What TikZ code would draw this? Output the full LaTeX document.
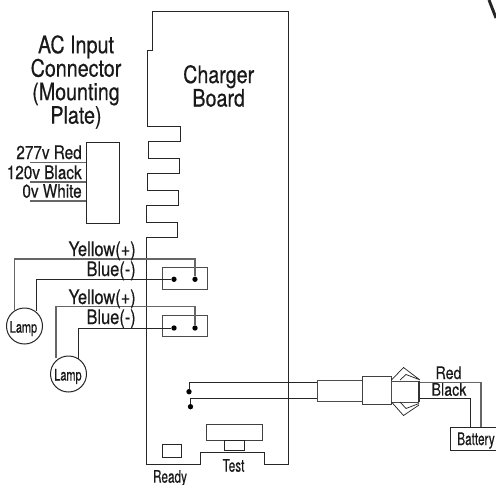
\documentclass[tikz,border=0pt]{standalone}
\usepackage{fontspec}
\setmainfont[FakeStretch=0.82,FakeBold=0.45]{TeX Gyre Heros}
\newfontfamily\narrowf[FakeStretch=0.68,FakeBold=0.45]{TeX Gyre Heros}
\begin{document}
\begin{tikzpicture}[x=0.75pt,y=-0.75pt,
  ln/.style={draw=black!85,line width=0.75pt,line join=miter},
  wire/.style={draw=black!85,line width=0.75pt},
  gwire/.style={draw=black!60,line width=0.8pt},
  dotn/.style={circle,fill=black,inner sep=0pt,minimum size=4pt},
  big/.style={font=\fontsize{18}{17.6}\selectfont,align=center,inner sep=0pt,text=black!90},
  lbl/.style={font=\fontsize{14}{15}\selectfont,inner sep=0pt,text=black!90},
  nlbl/.style={font=\narrowf\fontsize{13}{15}\selectfont,inner sep=0pt,text=black!90},
  lampn/.style={circle,draw=black!85,line width=0.75pt,minimum size=27pt,inner sep=0pt}]
\useasboundingbox (0,0) rectangle (496,485);
% stray stroke at corner
\coordinate (st1) at (489,0); \coordinate (st2) at (496,18);
\draw[line width=2.2pt,black!85] (st1) -- (st2);
% board
\draw[ln] (152,12) -- (288.3,12) -- (288.3,464) -- (264,464) -- (264,452.7) -- (200,452.7) -- (200,464) -- (146.7,464)
  -- (146.7,237.5) -- (177.5,237.5) -- (177.5,222) -- (146.5,222) -- (146.5,205) -- (178.5,205) -- (178.5,190)
  -- (147.5,190) -- (147.5,173.5) -- (179.5,173.5) -- (179.5,158) -- (148,158) -- (148,141.5) -- (180.7,141.5)
  -- (180.7,126.5) -- (147.5,126.5) -- (147.5,51) -- (152,51) -- cycle;
\node[big] (board) at (218.7,86) {Charger\\Board};
\node[big] (ac) at (76,82) {AC Input\\Connector\\(Mounting\\Plate)};
% AC box
\node[draw=black!85,line width=0.75pt,minimum width=24.75pt,minimum height=60.5pt,inner sep=0pt] (acbox) at (103,183) {};
\coordinate (a1) at (30,162.3); \coordinate (a2) at (30,182); \coordinate (a3) at (30,201);
\draw[gwire] (a1) -- (a1 -| acbox.west);
\draw[gwire] (a2) -- (a2 -| acbox.west);
\draw[gwire] (a3) -- (a3 -| acbox.west);
\node[lbl,anchor=base east] (t277) at (82,159) {277v Red};
\node[lbl,anchor=base east] (t120) at (82,179) {120v Black};
\node[lbl,anchor=base east] (t0) at (82,197.7) {0v White};
% test/ready
\node[draw=black!85,line width=0.6pt,minimum width=14.6pt,minimum height=9.75pt,inner sep=0pt] (ready) at (172,450.7) {};
\node[draw=black!75,line width=0.7pt,minimum width=41.5pt,minimum height=12pt,inner sep=0pt] (testbar) at (234.3,432.3) {};
\node[draw=black!85,line width=0.6pt,minimum width=14.5pt,minimum height=7pt,inner sep=0pt,anchor=north] (testbtn) at (234.5,440.3) {};
\node[nlbl,anchor=base] (ttest) at (233.5,471.7) {Test};
\node[nlbl,anchor=base] (tready) at (170,482.7) {Ready};
% lamp sockets
\node[draw=black!70,line width=0.75pt,minimum width=34pt,minimum height=16pt,inner sep=0pt] (s1) at (184.7,278.5) {};
\node[draw=black!70,line width=0.75pt,minimum width=34pt,minimum height=16pt,inner sep=0pt] (s2) at (184.7,326.3) {};
\node[dotn] (d1b) at (174,279.3) {}; \node[dotn] (d1y) at (195,279.3) {};
\node[dotn] (d2b) at (174,328) {}; \node[dotn] (d2y) at (195,328) {};
% lamps
\node[lampn] (l1) at (24.5,326) {};
\node[lampn] (l2) at (68.5,374) {};
\node[nlbl,anchor=base,font=\narrowf\fontsize{12}{14}\selectfont] (tl1) at (23.5,332.7) {Lamp};
\node[nlbl,anchor=base,font=\narrowf\fontsize{12}{14}\selectfont] (tl2) at (68,380.5) {Lamp};
\coordinate (ly1) at (14.5,259); \coordinate (lb1) at (36,279.3);
\coordinate (ly2) at (56,306.7); \coordinate (lb2) at (78,328);
\draw[gwire] (ly1 |- l1.north) ++(0,2.5) -- (ly1) -| (d1y);
\draw[wire] (lb1 |- l1.north) ++(0,3) -- (lb1) -- (d1b);
\draw[gwire] (ly2 |- l2.north) ++(0,2.5) -- (ly2) -| (d2y);
\draw[wire] (lb2 |- l2.north) ++(0,3) -- (lb2) -- (d2b);
\node[lbl,font=\fontsize{15}{16}\selectfont,anchor=base east] (y1) at (136,256) {Yellow(+)};
\node[lbl,font=\fontsize{15}{16}\selectfont,anchor=base east] (b1) at (136,276) {Blue(-)};
\node[lbl,font=\fontsize{15}{16}\selectfont,anchor=base east] (y2) at (136,304) {Yellow(+)};
\node[lbl,font=\fontsize{15}{16}\selectfont,anchor=base east] (b2) at (136,324) {Blue(-)};
% battery connector
\node[dotn] (d3) at (189,391.7) {};
\node[dotn] (d4) at (190.5,406.7) {};
\node[draw=black!70,line width=0.7pt,minimum width=34pt,minimum height=15.75pt,inner sep=0pt] (c1) at (340,390.5) {};
\node[draw=black!75,line width=0.8pt,minimum width=21.6pt,minimum height=21.2pt,inner sep=0pt] (c2) at (377,390.8) {};
\node[draw=black!70,line width=0.7pt,minimum width=20pt,minimum height=15.75pt,inner sep=0pt] (c3) at (404.8,391.5) {};
\coordinate (w1) at (189,382.7); \coordinate (w2) at (190.5,398.3);
\draw[wire] (d3) -- (w1) -- (w1 -| c1.west);
\draw[wire] (d4) -- (w2) -- (w2 -| c1.west);
\draw[line width=1.2pt,black!80] (419,381) -- (419,402);
\draw[line width=0.55pt,black!85] (391.5,380) -- (403.5,367.5) -- (420,380)  (400,380) -- (406,374.5) -- (419,379.5);
\draw[line width=0.55pt,black!85] (391.5,402) -- (403.5,415.5) -- (419,405)  (400,402) -- (406,408.5) -- (419,403.5);
% battery
\node[draw=black!85,line width=0.75pt,minimum width=34.5pt,minimum height=17.5pt,inner sep=0pt,anchor=north west] (bat) at (450,427) {};
\node[nlbl,anchor=base] (tbat) at (476,445) {Battery};
\coordinate (rw) at (481,382.7); \coordinate (kw) at (470,398.7);
\draw[gwire] (420,382.7) -- (rw) -- (rw |- bat.north);
\draw[wire] (420,398.7) -- (kw) -- (kw |- bat.north);
\node[lbl,anchor=base,font=\fontsize{13}{14}\selectfont] (tred) at (448.5,379) {Red};
\node[lbl,anchor=base,font=\fontsize{13}{14}\selectfont] (tblack) at (449,395.7) {Black};
\end{tikzpicture}
\end{document}
